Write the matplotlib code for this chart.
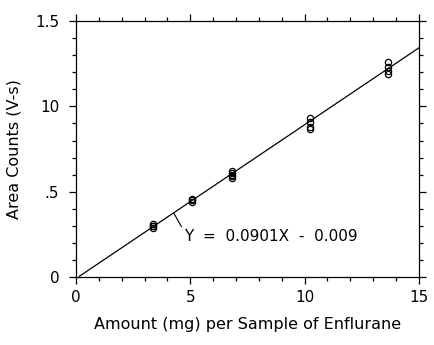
import matplotlib
matplotlib.use("Agg")
import matplotlib.pyplot as plt
from matplotlib.ticker import MultipleLocator, FixedLocator, FixedFormatter

# replicate injections at each spike level
amount_mg = [3.37] * 4 + [5.07] * 3 + [6.82] * 5 + [10.23] * 4 + [13.64] * 4
area_vs = [0.29, 0.30, 0.31, 0.30,
           0.44, 0.45, 0.46,
           0.58, 0.59, 0.60, 0.61, 0.62,
           0.87, 0.88, 0.91, 0.93,
           1.19, 1.21, 1.23, 1.26]

slope = 0.0901
intercept = -0.009
fit_x = [0.15, 15.0]
fit_y = [slope * x + intercept for x in fit_x]

y_ticks = [0, 0.5, 1.0, 1.5]
y_tick_labels = ["0", ".5", "10", "1.5"]
x_ticks = [0, 5, 10, 15]
x_tick_labels = ["0", "5", "10", "15"]

fig = plt.figure(figsize=(4.34, 3.45), dpi=100)
ax = fig.add_axes([0.175, 0.197, 0.790, 0.742])

ax.plot(fit_x, fit_y, color="black", lw=0.9)
ax.plot(amount_mg, area_vs, linestyle="none", marker="o", markersize=4.5,
        markerfacecolor="none", markeredgecolor="black", markeredgewidth=0.9)

ax.annotate("Y  =  0.0901X  -  0.009", xy=(4.28, 0.375), xytext=(4.72, 0.235),
            fontsize=11, ha="left", va="center",
            arrowprops=dict(arrowstyle="-", color="black", lw=0.8,
                            shrinkA=0, shrinkB=0, relpos=(0, 0.9)))

ax.set_xlim(0, 15)
ax.set_ylim(0, 1.5)
ax.xaxis.set_major_locator(FixedLocator(x_ticks))
ax.xaxis.set_major_formatter(FixedFormatter(x_tick_labels))
ax.xaxis.set_minor_locator(MultipleLocator(1))
ax.yaxis.set_major_locator(FixedLocator(y_ticks))
ax.yaxis.set_major_formatter(FixedFormatter(y_tick_labels))
ax.yaxis.set_minor_locator(MultipleLocator(0.1))

ax.tick_params(which="both", direction="out", top=True, right=True,
               labeltop=False, labelright=False, width=0.9)
ax.tick_params(which="major", length=5, labelsize=11)
ax.tick_params(which="minor", length=3)
ax.tick_params(axis="x", which="major", pad=4)
ax.tick_params(axis="y", which="major", pad=7)
for s in ax.spines.values():
    s.set_linewidth(0.9)

ax.set_xlabel("Amount (mg) per Sample of Enflurane", fontsize=11.5, labelpad=9)
ax.set_ylabel("Area Counts (V-s)", fontsize=11.5, labelpad=10)

fig.savefig("out.png", dpi=100)
